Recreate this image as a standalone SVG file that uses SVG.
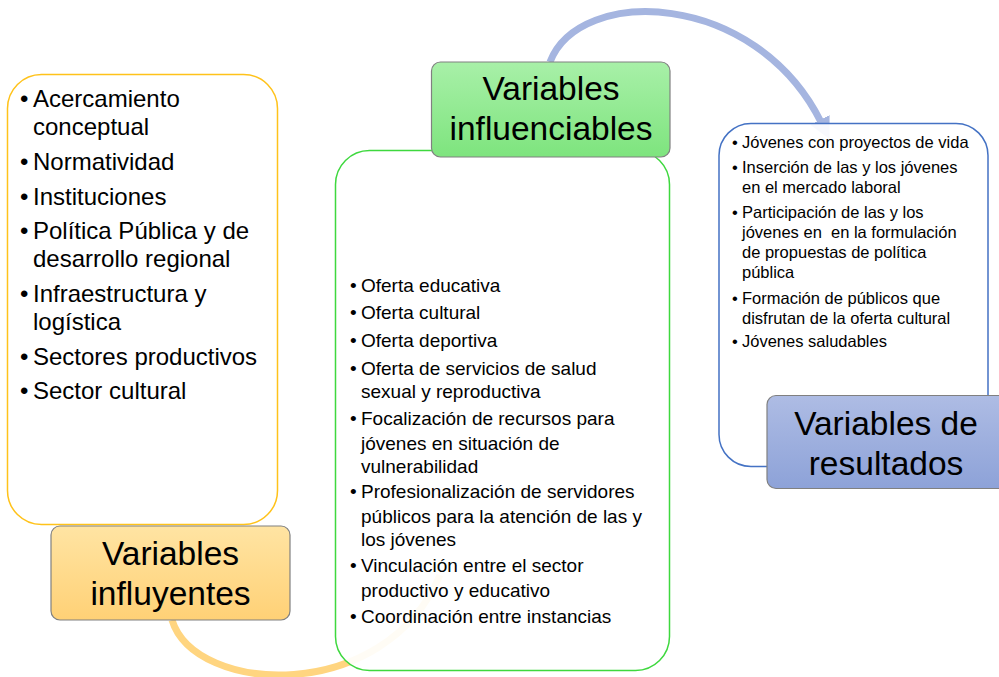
<svg xmlns="http://www.w3.org/2000/svg" width="999" height="677" viewBox="0 0 999 677">
<defs>
<linearGradient id="gOrange" x1="0" y1="0" x2="0" y2="1"><stop offset="0" stop-color="#FFE4A3"/><stop offset="1" stop-color="#FFD176"/></linearGradient>
<linearGradient id="gGreen" x1="0" y1="0" x2="0" y2="1"><stop offset="0" stop-color="#A8F0A8"/><stop offset="1" stop-color="#7EE47E"/></linearGradient>
<linearGradient id="gBlue" x1="0" y1="0" x2="0" y2="1"><stop offset="0" stop-color="#AEBCE4"/><stop offset="1" stop-color="#8DA2D8"/></linearGradient>
<marker id="arrBlue" markerUnits="userSpaceOnUse" markerWidth="24" markerHeight="24" refX="2" refY="10" orient="auto" viewBox="0 0 20 20">
<path d="M0,1 L18,10 L0,19 Z" fill="#A5B5E0"/>
</marker>
<style>
.t{font-family:"Liberation Sans",Arial,sans-serif;fill:#000}
.l{font-size:24px}
.m{font-size:19px}
.r{font-size:16.5px}
.h{font-size:33.5px;text-anchor:middle}
.lbl{stroke:#808080;stroke-width:1.2}
.box{fill:#fff;fill-opacity:0.92;stroke-width:1.5}
.arc{fill:none;stroke-width:7;stroke-linecap:butt}
</style>
</defs>

<g id="connectors">
<path class="arc" d="M 172 620 C 195 695, 385 705, 440 575" stroke="#FFD580"/>
<path class="arc" d="M 550 62 C 580 -15, 755 -10, 821 122" stroke="#A5B5E0" marker-end="url(#arrBlue)"/>
</g>

<g id="influyentes-list">
<rect class="box" x="7.5" y="74.5" width="270" height="450" rx="34" stroke="#FFC21A"/>
<g class="t l">
<text x="20" y="107">•</text><text x="33" y="107">Acercamiento</text>
<text x="33" y="135">conceptual</text>
<text x="20" y="170">•</text><text x="33" y="170">Normatividad</text>
<text x="20" y="205">•</text><text x="33" y="205">Instituciones</text>
<text x="20" y="239">•</text><text x="33" y="239">Política Pública y de</text>
<text x="33" y="267">desarrollo regional</text>
<text x="20" y="302">•</text><text x="33" y="302">Infraestructura y</text>
<text x="33" y="330">logística</text>
<text x="20" y="365">•</text><text x="33" y="365">Sectores productivos</text>
<text x="20" y="399">•</text><text x="33" y="399">Sector cultural</text>
</g>
</g>

<g id="influenciables-list">
<rect class="box" x="335.5" y="150.5" width="334" height="520" rx="34" stroke="#3ED83E"/>
<g class="t m">
<text x="350" y="292">•</text><text x="361" y="292">Oferta educativa</text>
<text x="350" y="319">•</text><text x="361" y="319">Oferta cultural</text>
<text x="350" y="347">•</text><text x="361" y="347">Oferta deportiva</text>
<text x="350" y="375">•</text><text x="361" y="375">Oferta de servicios de salud</text>
<text x="361" y="398">sexual y reproductiva</text>
<text x="350" y="425">•</text><text x="361" y="425">Focalización de recursos para</text>
<text x="361" y="450">jóvenes en situación de</text>
<text x="361" y="473">vulnerabilidad</text>
<text x="350" y="498">•</text><text x="361" y="498">Profesionalización de servidores</text>
<text x="361" y="523">públicos para la atención de las y</text>
<text x="361" y="546">los jóvenes</text>
<text x="350" y="572">•</text><text x="361" y="572">Vinculación entre el sector</text>
<text x="361" y="597">productivo y educativo</text>
<text x="350" y="623">•</text><text x="361" y="623">Coordinación entre instancias</text>
</g>
</g>

<g id="resultados-list">
<rect class="box" x="719" y="123.5" width="269" height="343" rx="32" stroke="#4472C4"/>
<g class="t r">
<text x="732" y="148">•</text><text x="742" y="148">Jóvenes con proyectos de vida</text>
<text x="732" y="173">•</text><text x="742" y="173">Inserción de las y los jóvenes</text>
<text x="742" y="193">en el mercado laboral</text>
<text x="732" y="218">•</text><text x="742" y="218">Participación de las y los</text>
<text x="742" y="238" xml:space="preserve" style="white-space:pre">jóvenes en  en la formulación</text>
<text x="742" y="258">de propuestas de política</text>
<text x="742" y="278">pública</text>
<text x="732" y="304">•</text><text x="742" y="304">Formación de públicos que</text>
<text x="742" y="324">disfrutan de la oferta cultural</text>
<text x="732" y="347">•</text><text x="742" y="347">Jóvenes saludables</text>
</g>
</g>

<g id="label-influyentes">
<rect class="lbl" x="51" y="526" width="239" height="94" rx="9" fill="url(#gOrange)"/>
<text class="t h" x="170.5" y="565">Variables</text>
<text class="t h" x="170.5" y="605">influyentes</text>
</g>

<g id="label-influenciables">
<rect class="lbl" x="431.5" y="62" width="238.5" height="95" rx="9" fill="url(#gGreen)"/>
<text class="t h" x="551" y="100">Variables</text>
<text class="t h" x="551" y="140">influenciables</text>
</g>

<g id="label-resultados">
<rect class="lbl" x="767" y="395.5" width="245" height="93" rx="9" fill="url(#gBlue)"/>
<text class="t h" x="886" y="435">Variables de</text>
<text class="t h" x="886" y="475">resultados</text>
</g>
</svg>
